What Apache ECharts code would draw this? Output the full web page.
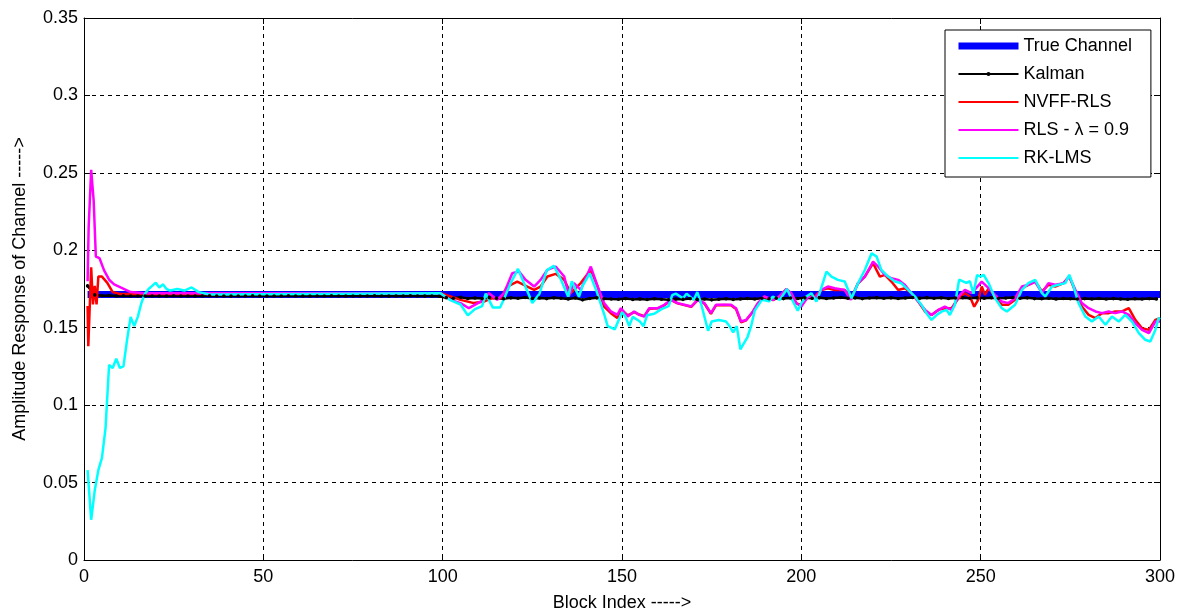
<!DOCTYPE html>
<html>
<head>
<meta charset="utf-8">
<script src="https://cdn.jsdelivr.net/npm/echarts@6/dist/echarts.min.js"></script>
<style>
html, body { margin: 0; padding: 0; background: #ffffff; }
#chart { width: 1187px; height: 615px; }
</style>
</head>
<body>
<div id="chart"></div>
<script>
// ---------- data ----------
const seriesNames = ['True Channel', 'Kalman', 'NVFF-RLS', 'RLS - \u03bb = 0.9', 'RK-LMS'];

const trueChannel = [[1, 0.1715], [300, 0.1715]];

// Kalman estimate, blocks 1,3,5,...,299
const kalmanValues = [
  0.1770, 0.1712, 0.1706, 0.1708, 0.1705, 0.1706, 0.1705, 0.1704, 0.1705, 0.1705,
  0.1705, 0.1704, 0.1706, 0.1705, 0.1705, 0.1704, 0.1705, 0.1706, 0.1705, 0.1705,
  0.1704, 0.1705, 0.1705, 0.1706, 0.1705, 0.1704, 0.1705, 0.1705, 0.1706, 0.1705,
  0.1705, 0.1704, 0.1705, 0.1705, 0.1706, 0.1705, 0.1704, 0.1705, 0.1705, 0.1705,
  0.1706, 0.1705, 0.1704, 0.1705, 0.1705, 0.1706, 0.1705, 0.1704, 0.1705, 0.1703,
  0.1694, 0.1690, 0.1696, 0.1689, 0.1692, 0.1688, 0.1694, 0.1691, 0.1687, 0.1693,
  0.1690, 0.1695, 0.1689, 0.1692, 0.1688, 0.1693, 0.1690, 0.1686, 0.1692, 0.1680,
  0.1689, 0.1693, 0.1687, 0.1685, 0.1684, 0.1688, 0.1683, 0.1686, 0.1682, 0.1687,
  0.1684, 0.1681, 0.1686, 0.1683, 0.1688, 0.1682, 0.1685, 0.1680, 0.1684, 0.1687,
  0.1683, 0.1686, 0.1689, 0.1685, 0.1690, 0.1687, 0.1691, 0.1688, 0.1692, 0.1689,
  0.1693, 0.1690, 0.1694, 0.1689, 0.1692, 0.1695, 0.1690, 0.1693, 0.1688, 0.1692,
  0.1694, 0.1690, 0.1693, 0.1689, 0.1692, 0.1695, 0.1691, 0.1694, 0.1690, 0.1693,
  0.1689, 0.1692, 0.1694, 0.1690, 0.1693, 0.1691, 0.1694, 0.1690, 0.1692, 0.1695,
  0.1690, 0.1693, 0.1688, 0.1687, 0.1690, 0.1686, 0.1689, 0.1687, 0.1685, 0.1688,
  0.1686, 0.1689, 0.1685, 0.1688, 0.1686, 0.1684, 0.1687, 0.1685, 0.1688, 0.1686
];

const nvffRls = [
  [1, 0.164], [1.2, 0.138], [2, 0.189], [2.5, 0.165], [3, 0.177], [3.5, 0.165], [4, 0.183],
  [5, 0.183], [6.5, 0.179], [8, 0.173], [10, 0.1718], [40, 0.1718], [99.4, 0.1723],
  [102.2, 0.1702], [105, 0.168], [108.7, 0.1659], [111.5, 0.1669], [113.8, 0.1691], [116.2, 0.1691],
  [118, 0.1766], [120.8, 0.1798], [123.6, 0.1766], [125.5, 0.1745], [127.3, 0.1766], [129.2, 0.1831],
  [131.5, 0.1848], [133.9, 0.1809], [135.7, 0.1723], [138.5, 0.1788], [141.3, 0.1874], [143.2, 0.1766],
  [145, 0.1637], [146.9, 0.1594], [148.7, 0.1562], [149.7, 0.1620], [151.6, 0.1580], [153.4, 0.1600],
  [154.8, 0.1585], [156.2, 0.1575], [157.6, 0.1622], [160, 0.1625], [161.8, 0.1645], [163.7, 0.1678],
  [165.5, 0.1657], [167.4, 0.1646], [169.3, 0.1635], [171.1, 0.1678], [173, 0.1655], [174.8, 0.1590],
  [176.2, 0.1645], [178.6, 0.1646], [180.4, 0.1645], [181.8, 0.1620], [183.2, 0.1535], [184.6, 0.1548],
  [186.5, 0.1603], [187.9, 0.1657], [189.7, 0.1700], [192.1, 0.1678], [193.9, 0.1700], [195.8, 0.1748],
  [197.2, 0.1720], [198.6, 0.1657], [200, 0.1647], [201.9, 0.1701], [203.7, 0.1701], [205.6, 0.1744],
  [207.4, 0.1755], [209.3, 0.1744], [212.1, 0.1744], [213.8, 0.1684], [215.8, 0.1787], [217.7, 0.1830],
  [220, 0.1916], [221.9, 0.1830], [223.3, 0.1841], [225.1, 0.1798], [227, 0.1744], [228.9, 0.1755],
  [230.7, 0.1723], [232.6, 0.1669], [234.5, 0.1604], [236.3, 0.1582], [238.2, 0.1615], [240, 0.1626],
  [241.9, 0.1626], [243.8, 0.1690], [245.6, 0.1723], [247, 0.1701], [248.2, 0.1636], [249.3, 0.1680],
  [250.3, 0.1766], [251.2, 0.1712], [252.2, 0.1755], [254, 0.1702], [255.9, 0.1648], [257.7, 0.1648],
  [259.6, 0.1680], [261.5, 0.1755], [263.3, 0.1777], [265.2, 0.1798], [267.1, 0.1734], [268.9, 0.1777],
  [270.8, 0.1766], [273.1, 0.1788], [274.7, 0.1831], [276.4, 0.1734], [278.2, 0.1637], [280.1, 0.1583],
  [282, 0.1562], [283.8, 0.1594], [285.7, 0.1594], [287.5, 0.1605], [289.4, 0.1605], [291.3, 0.1626],
  [293.1, 0.1551], [295, 0.1497], [296.9, 0.1486], [298.7, 0.1551], [300, 0.1562]
];

const rls09 = [
  [1, 0.180], [1.3, 0.215], [2, 0.252], [2.7, 0.232], [3.3, 0.196], [4.3, 0.195], [5.6, 0.187],
  [7, 0.181], [8.4, 0.178], [10.2, 0.176], [13, 0.173], [16.8, 0.1722], [40, 0.1722], [99.4, 0.1723],
  [102.2, 0.1680], [105, 0.1659], [107.3, 0.1626], [110.6, 0.1669], [112.9, 0.1723], [115.2, 0.1680],
  [117.1, 0.1723], [119.4, 0.1852], [121.3, 0.1863], [123.1, 0.1809], [125.5, 0.1766], [127.3, 0.1809],
  [129.2, 0.1874], [131.5, 0.1895], [133.9, 0.1831], [135.2, 0.1702], [136.6, 0.1788], [138.5, 0.1745],
  [141.3, 0.1895], [143.2, 0.1766], [145, 0.1659], [146.9, 0.1605], [148.7, 0.1583], [149.7, 0.1626],
  [151.6, 0.1572], [153.4, 0.1605], [154.8, 0.1583], [156.2, 0.1572], [157.6, 0.1626], [160, 0.1626],
  [161.8, 0.1648], [163.7, 0.1680], [165.5, 0.1659], [167.4, 0.1648], [169.3, 0.1637], [171.1, 0.1680],
  [173, 0.1659], [174.8, 0.1594], [176.2, 0.1648], [178.6, 0.1648], [180.4, 0.1648], [181.8, 0.1626],
  [183.2, 0.1540], [184.6, 0.1550], [186.5, 0.1605], [187.9, 0.1659], [189.7, 0.1702], [192.1, 0.1680],
  [193.9, 0.1702], [195.8, 0.1750], [197.2, 0.1723], [198.6, 0.1659], [200, 0.1636], [201.9, 0.1701],
  [203.7, 0.1690], [205.6, 0.1744], [207.4, 0.1766], [209.3, 0.1755], [212.1, 0.1744], [213.8, 0.1680],
  [215.8, 0.1787], [217.7, 0.1830], [220, 0.1927], [221.4, 0.1895], [223.3, 0.1841], [225.1, 0.1819],
  [227, 0.1809], [228.9, 0.1776], [230.7, 0.1723], [232.6, 0.1669], [234.5, 0.1615], [236.3, 0.1582],
  [238.2, 0.1615], [240, 0.1636], [241.9, 0.1615], [243.8, 0.1701], [245.6, 0.1744], [247.5, 0.1723],
  [250.3, 0.1798], [252.2, 0.1755], [254, 0.1712], [255.9, 0.1669], [257.7, 0.1659], [259.6, 0.1691],
  [261.5, 0.1766], [263.3, 0.1777], [265.2, 0.1798], [267.1, 0.1723], [268.9, 0.1788], [270.8, 0.1777],
  [273.1, 0.1788], [274.7, 0.1831], [276.4, 0.1745], [278.2, 0.1659], [280.1, 0.1626], [282, 0.1605],
  [283.8, 0.1594], [285.7, 0.1605], [287.5, 0.1594], [289.4, 0.1605], [291.3, 0.1583], [293.1, 0.1529],
  [295, 0.1486], [296.9, 0.1465], [298.7, 0.1540], [300, 0.1540]
];

const rkLms = [
  [1, 0.058], [2, 0.026], [3, 0.045], [4, 0.058], [5, 0.066], [6, 0.085], [7, 0.126], [8, 0.124],
  [9, 0.130], [10, 0.124], [11, 0.125], [12, 0.142], [13, 0.157], [14, 0.151], [15, 0.157], [16, 0.166],
  [17, 0.172], [18, 0.175], [19, 0.177], [20, 0.179], [21, 0.176], [22, 0.178], [23, 0.175], [24, 0.174],
  [26, 0.175], [28, 0.174], [30, 0.176], [32, 0.173], [35, 0.1715], [99.4, 0.1723],
  [102, 0.168], [105, 0.165], [107, 0.158], [109, 0.162], [111, 0.164], [112, 0.172], [114, 0.163],
  [116, 0.163], [117, 0.168], [119, 0.179], [121, 0.188], [123, 0.177], [125, 0.166], [127, 0.172],
  [129, 0.187], [131, 0.190], [133, 0.181], [135, 0.170], [136, 0.180], [138, 0.170], [139, 0.177],
  [141, 0.185], [143, 0.173], [145, 0.159], [146, 0.151], [148, 0.149], [150, 0.160], [151, 0.157],
  [152, 0.151], [153, 0.157], [155, 0.154], [156, 0.151], [157, 0.158], [159, 0.159], [161, 0.162],
  [163, 0.164], [164, 0.171], [165, 0.172], [167, 0.169], [168, 0.172], [170, 0.168], [171, 0.173],
  [172, 0.166], [174, 0.148], [175, 0.154], [177, 0.155], [179, 0.154], [180, 0.151], [181, 0.147],
  [182, 0.151], [183, 0.136], [185, 0.144], [186, 0.151], [187, 0.161], [189, 0.168], [191, 0.167],
  [192, 0.170], [194, 0.168], [196, 0.175], [197, 0.170], [199, 0.161], [200, 0.1658], [201.4, 0.1701],
  [202.8, 0.1723], [204.2, 0.1669], [205.1, 0.1723], [207, 0.1862], [208.4, 0.1830], [210.2, 0.1809],
  [212.1, 0.1798], [214, 0.1690], [215.8, 0.1787], [217.7, 0.1873], [219.6, 0.1981], [221, 0.1959],
  [222.3, 0.1873], [224.2, 0.1830], [226.1, 0.1798], [227.9, 0.1787], [229.8, 0.1744], [231.7, 0.1701],
  [233.5, 0.1647], [234.9, 0.1593], [236.3, 0.1550], [237.7, 0.1582], [239.1, 0.1604], [240.5, 0.1615],
  [241.4, 0.1582], [242.8, 0.1647], [244, 0.1810], [246, 0.1790], [247, 0.1800], [248, 0.1720],
  [249, 0.1840], [250, 0.1830], [250.8, 0.1842], [252.2, 0.1788], [254, 0.1691], [255.9, 0.1626],
  [257.3, 0.1605], [259.6, 0.1648], [261.5, 0.1745], [263.3, 0.1788], [265.2, 0.1809], [267.1, 0.1723],
  [268, 0.1702], [269.9, 0.1766], [271.7, 0.1777], [273.6, 0.1788], [274.7, 0.1842], [275.9, 0.1766],
  [277.3, 0.1659], [279.2, 0.1572], [281, 0.1540], [282.9, 0.1572], [284.8, 0.1519], [286.6, 0.1572],
  [288.5, 0.1540], [290.3, 0.1583], [292.2, 0.1540], [294.1, 0.1465], [295.9, 0.1422], [297.3, 0.1411],
  [298.7, 0.1486], [299.6, 0.1562], [300, 0.1555]
];

// ---------- chart ----------
const kalman = kalmanValues.map((v, i) => [1 + 2 * i, v]);
const FONT = 'Liberation Sans, Arial, sans-serif';
const FS = 18;
const dotSymbol = 'path://M0,0M10,10M3.2,5a1.8,1.8 0 1,0 3.6,0a1.8,1.8 0 1,0 -3.6,0z';
const hiddenIcon = { color: 'rgba(0,0,0,0)', borderColor: 'rgba(0,0,0,0)', borderWidth: 0, opacity: 0 };

const chart = echarts.init(document.getElementById('chart'), null, { renderer: 'canvas' });

const axisCommon = {
  axisLine: { show: true, onZero: false, lineStyle: { color: '#000', width: 1 } },
  axisTick: { show: true, inside: true, length: 6, lineStyle: { color: '#000' } },
};

chart.setOption({
  backgroundColor: '#ffffff',
  animation: false,
  grid: { left: 84, right: 27, top: 18, bottom: 55, containLabel: false, outerBoundsMode: 'none' },
  legend: {
    orient: 'vertical',
    left: 945,
    top: 30,
    width: 200,
    padding: [7, 19, 10, 10],
    itemWidth: 60,
    itemHeight: 14,
    itemGap: 10,
    backgroundColor: '#ffffff',
    borderColor: '#000',
    borderWidth: 1,
    textStyle: { fontFamily: FONT, fontSize: FS, color: '#000' },
    data: [
      { name: seriesNames[0], lineStyle: { width: 7 }, itemStyle: hiddenIcon },
      { name: seriesNames[1] },
      { name: seriesNames[2], itemStyle: hiddenIcon },
      { name: seriesNames[3], itemStyle: hiddenIcon },
      { name: seriesNames[4], itemStyle: hiddenIcon }
    ]
  },
  xAxis: [
    Object.assign({}, axisCommon, {
      type: 'value', min: 0, max: 300, interval: 50, position: 'bottom',
      name: 'Block Index ----->', nameLocation: 'middle', nameGap: 34,
      nameTextStyle: { fontFamily: FONT, fontSize: FS, color: '#000' },
      axisLabel: { fontFamily: FONT, fontSize: FS, color: '#000', margin: 8 },
      splitLine: { show: true, lineStyle: { color: '#000', type: [4, 4], width: 1 } }
    }),
    Object.assign({}, axisCommon, {
      type: 'value', min: 0, max: 300, interval: 50, position: 'top',
      axisLabel: { show: false }, splitLine: { show: false }
    })
  ],
  yAxis: [
    Object.assign({}, axisCommon, {
      type: 'value', min: 0, max: 0.35, interval: 0.05, position: 'left',
      name: 'Amplitude Response of Channel ----->', nameLocation: 'middle', nameGap: 55,
      nameTextStyle: { fontFamily: FONT, fontSize: FS, color: '#000' },
      axisLabel: { fontFamily: FONT, fontSize: FS, color: '#000', margin: 6 },
      splitLine: { show: true, lineStyle: { color: '#000', type: [4, 4], width: 1 } }
    }),
    Object.assign({}, axisCommon, {
      type: 'value', min: 0, max: 0.35, interval: 0.05, position: 'right',
      axisLabel: { show: false }, splitLine: { show: false }
    })
  ],
  series: [
    { name: seriesNames[0], type: 'line', data: trueChannel, symbol: 'none',
      lineStyle: { color: '#0000ff', width: 7 }, itemStyle: { color: '#0000ff' } },
    { name: seriesNames[1], type: 'line', data: kalman, symbol: dotSymbol, symbolSize: 10,
      showAllSymbol: true,
      lineStyle: { color: '#000000', width: 2.5 }, itemStyle: { color: '#000000' } },
    { name: seriesNames[2], type: 'line', data: nvffRls, symbol: 'none',
      lineStyle: { color: '#ff0000', width: 2.5 }, itemStyle: { color: '#ff0000' } },
    { name: seriesNames[3], type: 'line', data: rls09, symbol: 'none',
      lineStyle: { color: '#ff00ff', width: 2.5 }, itemStyle: { color: '#ff00ff' } },
    { name: seriesNames[4], type: 'line', data: rkLms, symbol: 'none',
      lineStyle: { color: '#00ffff', width: 2.5 }, itemStyle: { color: '#00ffff' } }
  ]
});
</script>
</body>
</html>
